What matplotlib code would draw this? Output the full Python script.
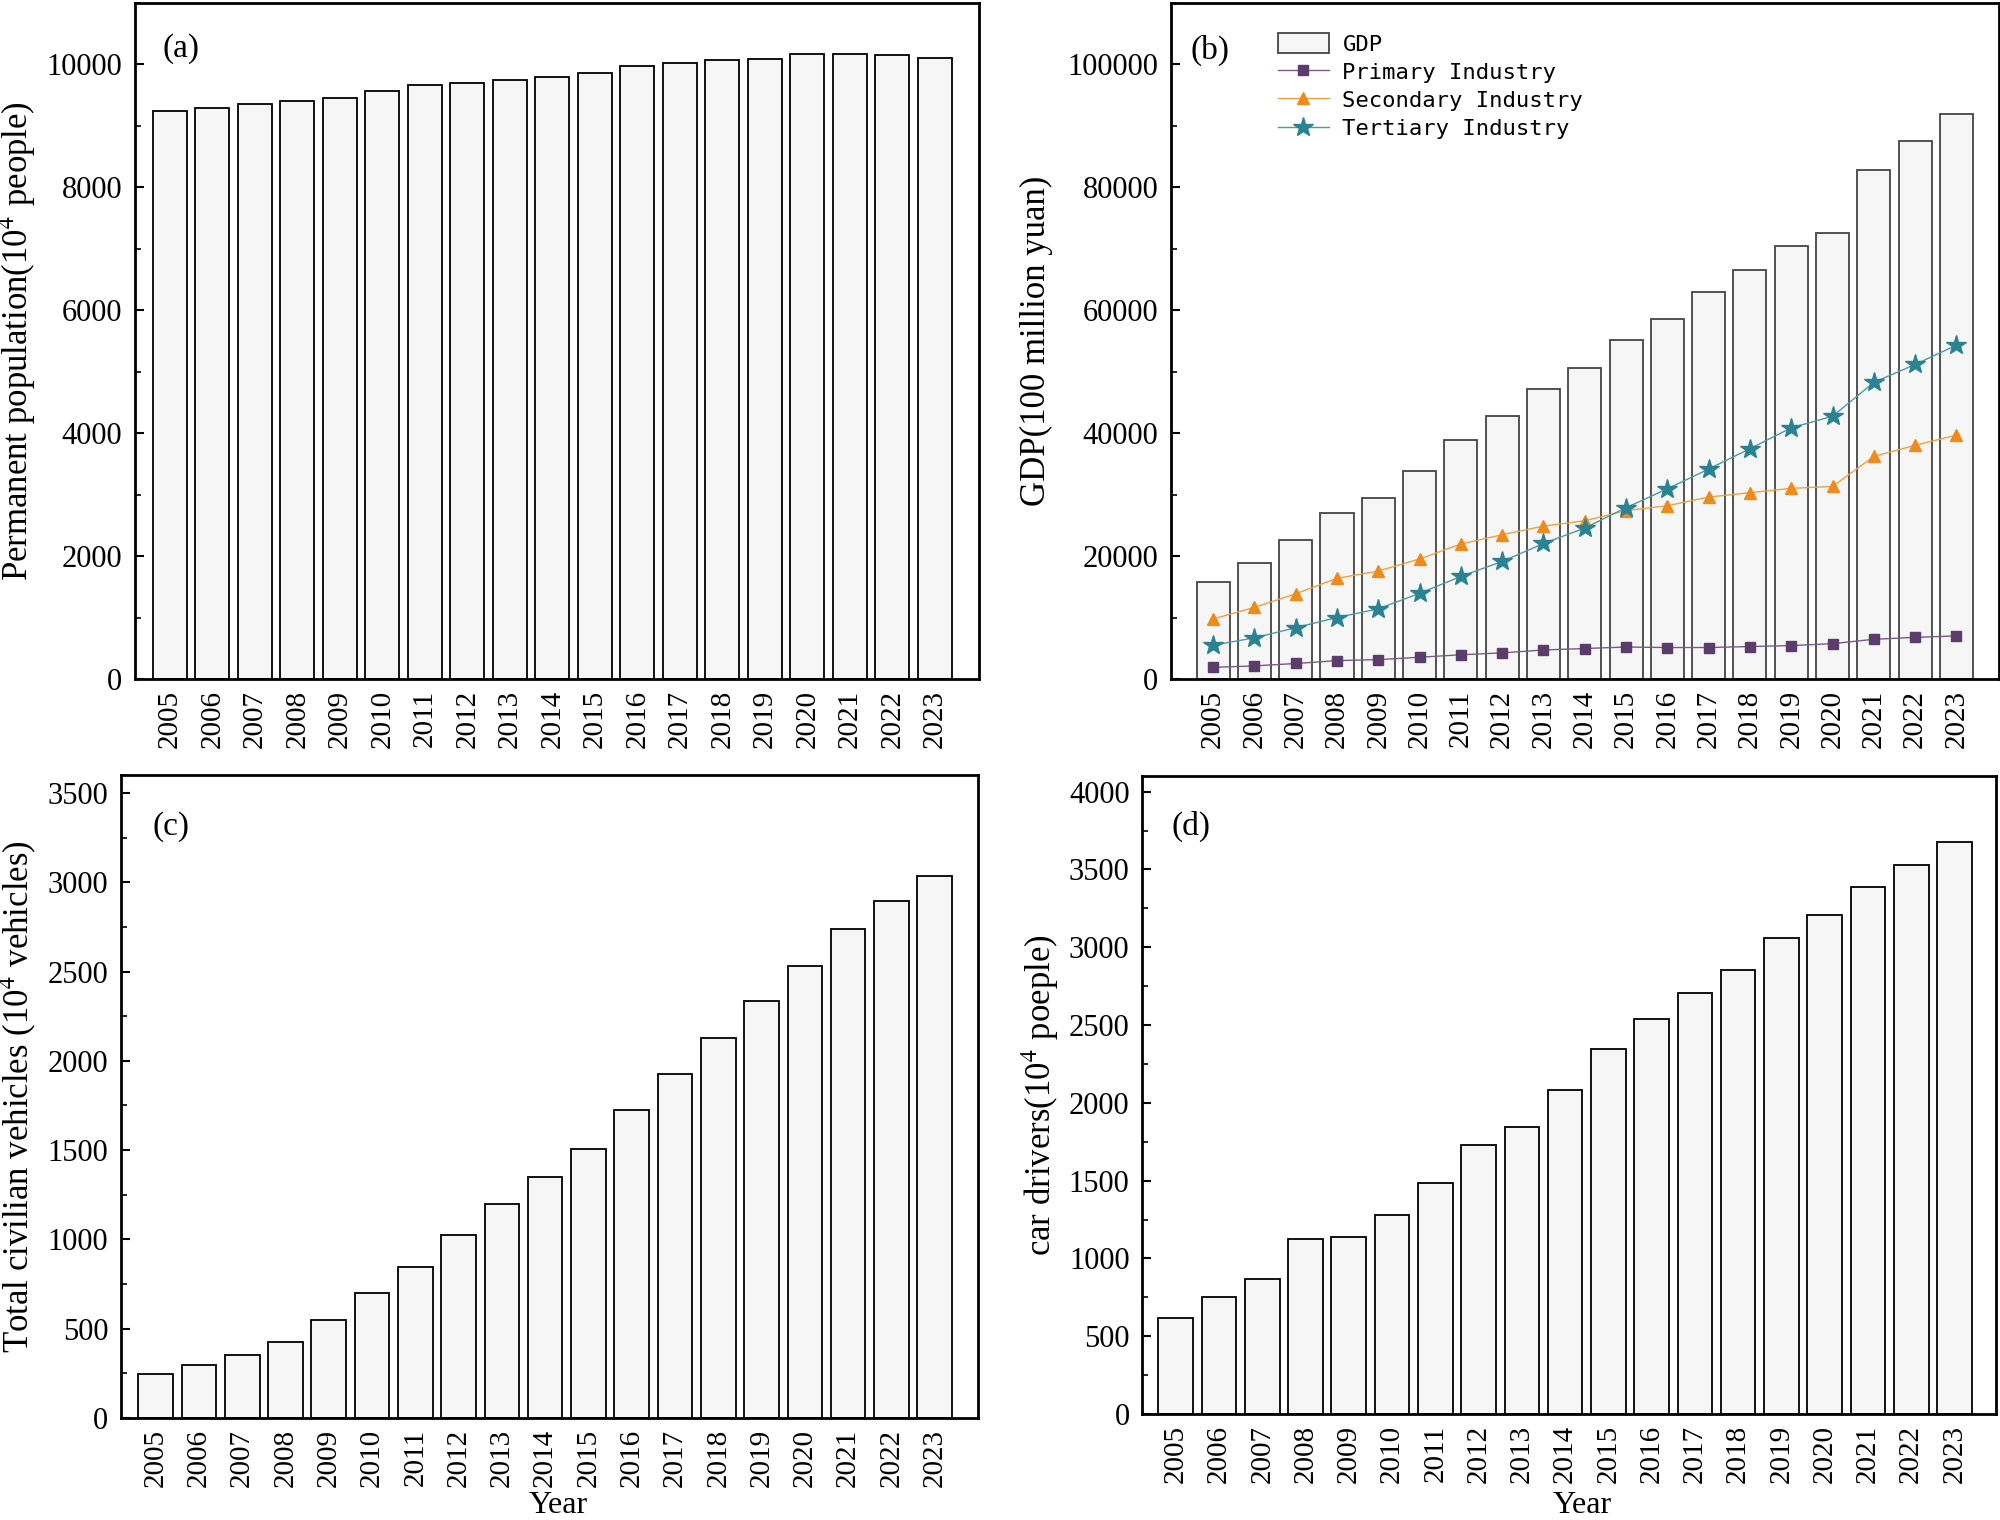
import matplotlib
matplotlib.use('Agg')
import matplotlib.pyplot as plt
import numpy as np
from matplotlib.ticker import MultipleLocator

plt.rcParams['font.family'] = ['Liberation Serif', 'DejaVu Serif']
plt.rcParams['mathtext.fontset'] = 'stix'

years = [str(y) for y in range(2005, 2024)]

# (a) permanent population, 10^4 people
population = [9236, 9300, 9362, 9410, 9457, 9575, 9661, 9701, 9740, 9803,
              9866, 9969, 10024, 10071, 10094, 10165, 10165, 10157, 10110]

# (b) GDP and the three industries, 100 million yuan
gdp = [15750, 18820, 22600, 27010, 29450, 33780, 38900, 42840, 47240, 50630,
       55200, 58580, 62910, 66540, 70390, 72600, 82760, 87480, 91970]
primary = [1890, 2130, 2520, 2990, 3150, 3540, 3940, 4250, 4720, 4960,
           5200, 5120, 5120, 5280, 5430, 5750, 6460, 6770, 7010]
secondary = [9760, 11650, 13860, 16380, 17560, 19530, 21970, 23470, 24880, 25750,
             27400, 28190, 29610, 30320, 31020, 31340, 36220, 38030, 39690]
tertiary = [5510, 6690, 8350, 10000, 11420, 13940, 16690, 19130, 22050, 24570,
            27870, 30950, 34170, 37480, 40870, 42760, 48270, 51180, 54330]

# (c) civilian vehicles, 10^4 vehicles
vehicles = [244, 295, 355, 423, 550, 702, 848, 1024, 1197, 1349,
            1506, 1723, 1926, 2127, 2333, 2533, 2736, 2896, 3032]

# (d) car drivers, 10^4 people
drivers = [617, 751, 869, 1128, 1137, 1277, 1486, 1732, 1847, 2084,
           2343, 2536, 2704, 2854, 3059, 3206, 3389, 3530, 3676]

bar_fc = '#f6f6f6'
x = np.arange(len(years))

fig = plt.figure(figsize=(20, 15.2), dpi=100)
ax_a = fig.add_axes([0.0675, 0.5533, 0.422, 0.4447])
ax_b = fig.add_axes([0.5855, 0.5533, 0.414, 0.4447])
ax_c = fig.add_axes([0.0605, 0.0671, 0.4285, 0.423])
ax_d = fig.add_axes([0.571, 0.0697, 0.427, 0.4197])


def style(ax, ylim, major, minor, ylabel, tag, labelx, tagpos, xlim):
    ax.set_xlim(*xlim)
    ax.set_ylim(*ylim)
    ax.yaxis.set_major_locator(MultipleLocator(major))
    ax.yaxis.set_minor_locator(MultipleLocator(minor))
    ax.set_xticks(x)
    ax.set_xticklabels(years, rotation=90)
    ax.tick_params(axis='x', length=0, pad=8, labelsize=21)
    ax.tick_params(axis='y', which='major', direction='in', length=6.5, width=1.5,
                   pad=9, labelsize=22)
    ax.tick_params(axis='y', which='minor', direction='in', length=4, width=1.2)
    for s in ax.spines.values():
        s.set_linewidth(2)
    ax.set_ylabel(ylabel, fontsize=25)
    ax.yaxis.set_label_coords(labelx, 0.5)
    ax.text(tagpos[0], tagpos[1], tag, transform=ax.transAxes, fontsize=24, va='top')


ax_a.bar(x, population, width=0.8, color=bar_fc, edgecolor='black', linewidth=1.3)
style(ax_a, (0, 11000), 2000, 1000, r'Permanent population(10$^4$ people)', '(a)',
      -0.115, (0.032, 0.955), (-0.82, 19.04))

bars = ax_b.bar(x, gdp, width=0.8, color=bar_fc, edgecolor='#444444', linewidth=1.3)
l1, = ax_b.plot(x, primary, color='#7a5a86', lw=1, marker='s', ms=7,
                mfc='#5b3d6b', mec='#5b3d6b')
l2, = ax_b.plot(x, secondary, color='#f0a040', lw=1, marker='^', ms=9,
                mfc='#ef8a1c', mec='#ef8a1c')
l3, = ax_b.plot(x, tertiary, color='#4a9aa8', lw=1, marker='*', ms=15,
                mfc='#2a8292', mec='#2a8292')
style(ax_b, (0, 110000), 20000, 10000, 'GDP(100 million yuan)', '(b)',
      -0.1425, (0.024, 0.953), (-1.02, 19.03))
ax_b.legend([bars, l1, l2, l3],
            ['GDP', 'Primary Industry', 'Secondary Industry', 'Tertiary Industry'],
            loc='upper left', bbox_to_anchor=(0.105, 0.985), frameon=False,
            prop={'family': 'DejaVu Sans Mono', 'size': 16}, handlelength=2.3,
            handleheight=1.0, handletextpad=0.6, labelspacing=0.3)

ax_c.bar(x, vehicles, width=0.8, color=bar_fc, edgecolor='black', linewidth=1.3)
style(ax_c, (0, 3600), 500, 250, r'Total civilian vehicles (10$^4$ vehicles)', '(c)',
      -0.097, (0.037, 0.944), (-0.8, 19.0))
ax_c.set_xlabel('Year', fontsize=23)
ax_c.xaxis.set_label_coords(0.51, -0.1135)

ax_d.bar(x, drivers, width=0.8, color=bar_fc, edgecolor='black', linewidth=1.3)
style(ax_d, (0, 4100), 500, 250, r'car drivers(10$^4$ poeple)', '(d)',
      -0.095, (0.035, 0.945), (-0.78, 18.96))
ax_d.set_xlabel('Year', fontsize=23)
ax_d.xaxis.set_label_coords(0.515, -0.1207)

fig.savefig('out.png', dpi=100)
